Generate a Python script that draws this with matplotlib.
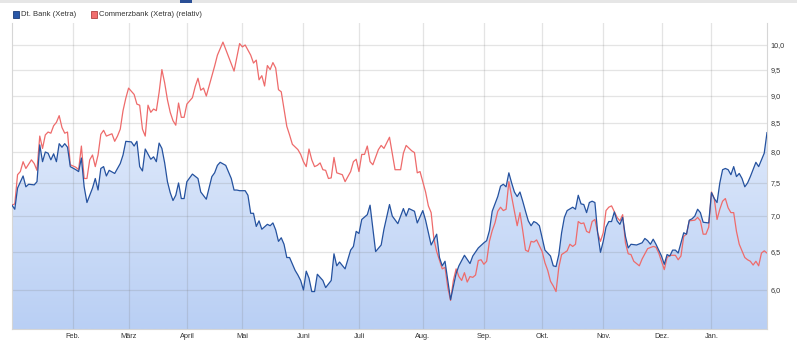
import numpy as np
import pandas as pd
import matplotlib
matplotlib.use("Agg")
import matplotlib.pyplot as plt
from matplotlib.patches import Rectangle
from matplotlib.colors import LinearSegmentedColormap
from matplotlib.ticker import FixedLocator, NullLocator, FixedFormatter

plt.rcParams["font.family"] = ["Liberation Sans", "DejaVu Sans"]

# Xetra trading calendar (session numbers count from the first session)
first_session = "2019-01-02"
last_session = "2020-01-30"
exchange_holidays = ["2019-04-19", "2019-04-22", "2019-05-01", "2019-10-03",
                     "2019-12-24", "2019-12-25", "2019-12-26", "2019-12-31",
                     "2020-01-01"]
month_names = ["Feb.", "März", "April", "Mai", "Juni", "Juli", "Aug.",
               "Sep.", "Okt.", "Nov.", "Dez.", "Jan."]

# Deutsche Bank closing prices (EUR) by session number
dtb_days = [0, 1, 2, 4, 5, 6, 8, 9, 10, 11, 12, 13, 14, 15, 16, 17, 18, 19, 20, 21,
            23, 24, 25, 26, 27, 29, 30, 31, 32, 33, 34, 35, 37, 39, 40, 41, 43, 44, 45, 46,
            47, 48, 50, 51, 52, 53, 54, 55, 56, 57, 58, 59, 60, 61, 62, 63, 65, 67, 68, 70,
            72, 73, 74, 75, 77, 79, 80, 81, 82, 84, 85, 86, 87, 88, 89, 90, 92, 93, 94, 95,
            96, 97, 98, 99, 100, 102, 103, 104, 105, 106, 107, 108, 109, 110, 112, 113, 115, 116, 117, 118,
            120, 122, 123, 124, 125, 126, 128, 129, 131, 133, 134, 136, 137, 139, 141, 142, 143, 145, 146, 148,
            149, 151, 153, 154, 155, 156, 158, 160, 161, 163, 165, 166, 168, 170, 171, 172, 173, 175, 176, 177,
            178, 179, 180, 181, 182, 183, 184, 185, 186, 187, 188, 189, 190, 191, 192, 194, 195, 196, 197, 198,
            199, 200, 202, 203, 204, 205, 206, 207, 208, 209, 210, 211, 212, 213, 214, 215, 216, 217, 218, 219,
            220, 221, 222, 223, 225, 227, 228, 229, 230, 231, 232, 233, 234, 235, 236, 237, 238, 239, 240, 241,
            242, 243, 244, 245, 246, 247, 248, 249, 251, 252, 253, 254, 255, 256, 257, 258, 259, 260, 261, 262,
            263, 264, 265, 266, 268, 269, 271, 272]
dtb_close = [7.16, 7.10, 7.42, 7.61, 7.44, 7.48, 7.47, 7.52, 8.12, 7.84, 8.00, 7.98, 7.87, 7.97, 7.84, 8.14, 8.08, 8.14, 8.08, 7.76,
             7.71, 7.68, 7.90, 7.44, 7.20, 7.42, 7.57, 7.39, 7.73, 7.76, 7.61, 7.70, 7.65, 7.81, 7.95, 8.18, 8.17, 8.10, 8.18, 7.76,
             7.69, 8.05, 7.88, 7.92, 7.84, 8.15, 8.06, 7.82, 7.52, 7.35, 7.23, 7.31, 7.50, 7.26, 7.26, 7.52, 7.64, 7.57, 7.36, 7.25,
             7.60, 7.66, 7.78, 7.83, 7.78, 7.57, 7.39, 7.39, 7.38, 7.38, 7.31, 7.04, 7.04, 6.85, 6.93, 6.81, 6.88, 6.86, 6.90, 6.80,
             6.64, 6.69, 6.60, 6.42, 6.42, 6.25, 6.19, 6.12, 6.00, 6.24, 6.15, 5.98, 5.98, 6.20, 6.12, 6.03, 6.12, 6.47, 6.31, 6.36,
             6.27, 6.52, 6.57, 6.78, 6.75, 6.95, 7.02, 7.16, 6.50, 6.59, 6.81, 7.17, 7.00, 6.89, 7.11, 7.00, 7.11, 7.07, 6.90, 7.08,
             6.94, 6.59, 6.74, 6.42, 6.31, 6.37, 5.88, 6.21, 6.31, 6.45, 6.34, 6.44, 6.55, 6.62, 6.65, 6.79, 7.07, 7.29, 7.45, 7.48,
             7.44, 7.66, 7.50, 7.36, 7.29, 7.36, 7.22, 7.07, 6.93, 6.86, 6.92, 6.90, 6.86, 6.69, 6.52, 6.44, 6.31, 6.30, 6.46, 6.76,
             6.98, 7.08, 7.13, 7.10, 7.31, 7.18, 7.17, 7.05, 7.20, 7.22, 7.20, 6.76, 6.49, 6.64, 6.84, 6.92, 6.92, 7.06, 6.93, 6.88,
             6.98, 6.71, 6.55, 6.60, 6.59, 6.62, 6.68, 6.65, 6.60, 6.67, 6.60, 6.52, 6.44, 6.33, 6.46, 6.44, 6.52, 6.52, 6.48, 6.62,
             6.76, 6.74, 6.94, 6.96, 7.00, 7.10, 7.05, 6.91, 6.90, 7.35, 7.26, 7.20, 7.50, 7.71, 7.73, 7.71, 7.63, 7.76, 7.60, 7.65,
             7.57, 7.44, 7.50, 7.60, 7.83, 7.76, 7.98, 8.33]

# Commerzbank, rebased to the Deutsche Bank price of the first session
cbk_days = [0, 1, 2, 3, 4, 5, 7, 8, 9, 10, 11, 12, 13, 14, 15, 16, 17, 18, 19, 20,
            21, 23, 24, 25, 26, 27, 28, 29, 30, 31, 32, 33, 34, 36, 37, 38, 39, 40, 41, 42,
            44, 45, 46, 47, 48, 49, 50, 51, 52, 53, 54, 55, 56, 57, 58, 59, 60, 61, 62, 63,
            65, 66, 67, 68, 69, 70, 72, 73, 74, 76, 78, 80, 82, 83, 84, 86, 87, 88, 89, 90,
            91, 92, 93, 94, 95, 96, 97, 98, 99, 100, 101, 103, 104, 105, 106, 107, 108, 109, 110, 111,
            112, 113, 114, 115, 116, 117, 119, 120, 122, 123, 124, 125, 126, 127, 128, 129, 130, 132, 133, 134,
            136, 137, 138, 140, 141, 142, 144, 145, 146, 147, 149, 150, 151, 152, 153, 155, 156, 157, 158, 159,
            160, 161, 162, 163, 164, 165, 166, 167, 168, 169, 170, 171, 172, 173, 174, 175, 176, 177, 178, 179,
            180, 181, 182, 183, 184, 185, 186, 187, 188, 189, 191, 192, 193, 194, 195, 196, 197, 198, 200, 201,
            202, 203, 204, 205, 206, 207, 208, 209, 210, 211, 212, 213, 214, 215, 216, 218, 219, 220, 221, 222,
            223, 224, 226, 227, 229, 231, 232, 233, 234, 235, 236, 237, 239, 240, 241, 242, 243, 244, 246, 247,
            248, 249, 250, 251, 252, 253, 254, 255, 256, 257, 258, 259, 260, 261, 262, 264, 265, 266, 267, 268,
            269, 270, 271, 272]
cbk_rel = [7.16, 7.18, 7.63, 7.68, 7.84, 7.73, 7.87, 7.81, 7.70, 8.27, 8.06, 8.29, 8.34, 8.32, 8.45, 8.51, 8.63, 8.42, 8.32, 8.34,
           7.79, 7.75, 7.71, 8.10, 7.57, 7.57, 7.87, 7.95, 7.76, 7.95, 8.30, 8.37, 8.27, 8.31, 8.18, 8.27, 8.39, 8.72, 8.95, 9.14,
           9.02, 8.84, 8.82, 8.39, 8.27, 8.82, 8.69, 8.75, 8.72, 9.06, 9.50, 9.24, 8.92, 8.69, 8.54, 8.46, 8.86, 8.60, 8.60, 8.84,
           8.96, 9.17, 9.33, 9.10, 9.14, 8.99, 9.37, 9.57, 9.79, 10.06, 9.76, 9.47, 10.03, 9.96, 10.00, 9.79, 9.63, 9.69, 9.30, 9.38,
           9.18, 9.58, 9.50, 9.64, 9.53, 9.11, 9.07, 8.75, 8.44, 8.29, 8.13, 8.04, 7.96, 7.84, 7.76, 8.05, 7.87, 7.76, 7.78, 7.82,
           7.71, 7.70, 7.57, 7.58, 7.91, 7.66, 7.63, 7.52, 7.68, 7.84, 7.88, 7.68, 7.96, 7.96, 8.10, 7.84, 7.79, 8.04, 8.11, 8.06,
           8.25, 7.98, 7.71, 7.71, 7.98, 8.11, 8.02, 7.99, 7.66, 7.68, 7.36, 7.15, 7.05, 6.67, 6.50, 6.27, 6.29, 6.03, 5.87, 6.12,
           6.27, 6.17, 6.12, 6.22, 6.10, 6.17, 6.16, 6.19, 6.38, 6.39, 6.33, 6.37, 6.64, 6.79, 6.90, 7.07, 7.13, 7.08, 7.10, 7.52,
           7.29, 7.07, 6.86, 7.05, 6.79, 6.52, 6.50, 6.64, 6.63, 6.66, 6.50, 6.35, 6.25, 6.11, 6.05, 5.98, 6.29, 6.46, 6.51, 6.60,
           6.57, 6.60, 6.92, 6.89, 6.90, 6.78, 6.76, 6.92, 6.95, 6.76, 6.64, 6.76, 7.08, 7.13, 7.15, 6.98, 6.93, 7.02, 6.62, 6.47,
           6.46, 6.37, 6.31, 6.40, 6.54, 6.57, 6.56, 6.48, 6.37, 6.26, 6.42, 6.45, 6.45, 6.39, 6.44, 6.71, 6.74, 6.93, 6.94, 6.98,
           6.93, 6.74, 6.74, 6.84, 7.36, 7.26, 6.95, 7.10, 7.22, 7.26, 7.12, 7.05, 7.05, 6.78, 6.60, 6.42, 6.39, 6.37, 6.32, 6.37,
           6.31, 6.48, 6.51, 6.48]

price_ticks = [6.0, 6.5, 7.0, 7.5, 8.0, 8.5, 9.0, 9.5, 10.0]

# ---------------------------------------------------------------------------
sessions = pd.bdate_range(first_session, last_session)
sessions = sessions[~sessions.isin(pd.to_datetime(exchange_holidays))]
month_period = sessions.to_period("M")
month_start = np.flatnonzero(np.r_[False, month_period[1:] != month_period[:-1]])

W, H = 797, 348
fig = plt.figure(figsize=(W / 100, H / 100), dpi=100)
ax = fig.add_axes([12 / W, 1 - 329 / H, 755 / W, (329 - 22.5) / H])
ax.set_yscale("log")

blue = "#25529f"
red = "#ee6b6b"

# gradient area under the Deutsche Bank line
area = ax.fill_between(dtb_days, dtb_close, 1.0, facecolor="none", lw=0)
cmap = LinearSegmentedColormap.from_list("area", ["#f1f6fe", "#b9cff4"])
grad = np.linspace(0, 1, 256).reshape(-1, 1)
im = ax.imshow(grad, cmap=cmap, extent=[0, 1, 0, 1], transform=ax.transAxes,
               aspect="auto", origin="upper", interpolation="bilinear", zorder=0.5)
im.set_clip_path(area.get_paths()[0], transform=ax.transData)

ax.plot(cbk_days, cbk_rel, color=red, lw=0.9, zorder=3)
ax.plot(dtb_days, dtb_close, color=blue, lw=0.9, zorder=4)

ax.set_xlim(0, len(sessions) - 1)
ax.set_ylim(5.531, 10.48)

ax.yaxis.set_major_locator(FixedLocator(price_ticks))
ax.yaxis.set_minor_locator(NullLocator())
ax.yaxis.set_major_formatter(FixedFormatter([f"{v:.1f}".replace(".", ",") for v in price_ticks]))
ax.yaxis.tick_right()
ax.xaxis.set_major_locator(FixedLocator(month_start))
ax.xaxis.set_major_formatter(FixedFormatter(month_names))
ax.xaxis.set_minor_locator(NullLocator())
ax.tick_params(axis="y", length=0, pad=2.8, labelsize=5.2, labelcolor="#333333")
ax.tick_params(axis="x", length=0, pad=2.6, labelsize=5.3, labelcolor="#333333")

ax.set_axisbelow("line")
ax.grid(True, color="#7a7a7a", alpha=0.2, lw=0.9)

for side in ("top",):
    ax.spines[side].set_visible(False)
for side in ("left", "bottom", "right"):
    ax.spines[side].set_color("#d6d6d6")
    ax.spines[side].set_linewidth(0.8)

# legend row
def legend_entry(x, color, edge, label):
    fig.patches.append(Rectangle((x / W, 1 - 17.5 / H), 6 / W, 6 / H,
                                 transform=fig.transFigure, facecolor=color,
                                 edgecolor=edge, lw=0.6))
    fig.text((x + 8) / W, 1 - 14.6 / H, label, fontsize=5.5, color="#333333",
             va="center", ha="left")

legend_entry(13, "#2a58a8", "#1b3b78", "Dt. Bank (Xetra)")
legend_entry(91, "#f06e6e", "#b04040", "Commerzbank (Xetra) (relativ)")

# header strip
fig.patches.append(Rectangle((0, 1 - 2.5 / H), 1, 2.5 / H, transform=fig.transFigure,
                             facecolor="#e6e6e6", edgecolor="none"))
fig.patches.append(Rectangle((180 / W, 1 - 2.5 / H), 12 / W, 2.5 / H, transform=fig.transFigure,
                             facecolor="#2a4f96", edgecolor="none"))

fig.savefig("out.png", dpi=100)
